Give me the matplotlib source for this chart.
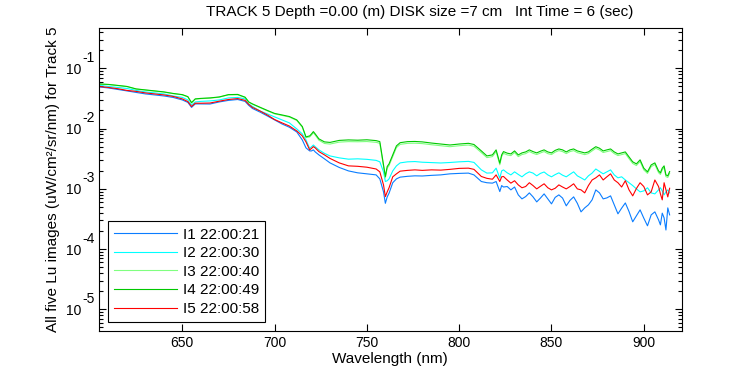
import matplotlib
matplotlib.use("Agg")
import matplotlib.pyplot as plt
from matplotlib.ticker import LogLocator, FixedLocator, NullFormatter, FuncFormatter

plt.rcParams['font.family'] = ['Liberation Sans', 'DejaVu Sans']

wavelength = [605, 610, 615, 620, 625, 630, 635, 640, 645, 650, 653, 655, 657, 660, 665, 670,
              675, 680, 684, 686, 688, 692, 696, 700, 704, 708, 712, 715, 717, 719, 720, 721,
              722, 724, 727, 730, 735, 740, 745, 750, 755, 757, 759, 760, 761, 762, 764, 766,
              768, 772, 776, 780, 785, 790, 795, 800, 805, 808, 812, 815, 818, 820, 822, 823,
              824, 826,
              828, 830, 832, 834, 836, 838, 840, 842, 844, 846, 848, 850, 852, 854, 856, 858,
              860, 862, 864, 866, 868, 870, 872, 874, 876, 878, 880, 882, 884, 886, 888, 890,
              892, 894, 896, 898, 900, 902, 904, 906, 908, 909, 910, 911, 912, 913, 914]

I1 = [0.0490, 0.0471, 0.0445, 0.0421, 0.0397, 0.0375, 0.0361, 0.0347, 0.0328, 0.0298, 0.0271,
      0.0224, 0.0256, 0.0256, 0.0255, 0.0276, 0.0293, 0.0303, 0.0282, 0.0242, 0.0215, 0.0188,
      0.0162, 0.0139, 0.0119, 0.0105, 0.00877, 0.00647, 0.00477, 0.00425, 0.00425, 0.00442,
      0.00409, 0.00365, 0.00314, 0.00269, 0.00226, 0.00198, 0.00184, 0.00177, 0.00170, 0.00146,
      0.000889, 0.000574, 0.000734, 0.000845, 0.00126, 0.00146, 0.00156, 0.00161, 0.00164,
      0.00163, 0.00167, 0.00170, 0.00177, 0.00180, 0.00182, 0.00170, 0.00132, 0.00126, 0.00124,
      0.00132, 0.000899, 0.00113, 0.00107, 0.00109,
      0.000959, 0.00107, 0.000792, 0.000680, 0.000742, 0.000855, 0.000734, 0.000606, 0.000701,
      0.000823, 0.000680, 0.000562, 0.000720, 0.000792, 0.000701, 0.000521, 0.000642, 0.000734,
      0.000574, 0.000414, 0.000482, 0.000541, 0.000655, 0.000959, 0.000855, 0.000680, 0.000706,
      0.000763, 0.000541, 0.000384, 0.000477, 0.000582, 0.000419, 0.000283, 0.000356, 0.000447,
      0.000326, 0.000243, 0.000369, 0.000414, 0.000305, 0.000252, 0.000394, 0.000329, 0.000207,
      0.000482, 0.000369]

I2 = [0.0519, 0.0499, 0.0480, 0.0462, 0.0429, 0.0405, 0.0390, 0.0375, 0.0347, 0.0328, 0.0298,
      0.0246, 0.0276, 0.0282, 0.0287, 0.0298, 0.0322, 0.0328, 0.0310, 0.0256, 0.0233, 0.0196,
      0.0175, 0.0156, 0.0139, 0.0124, 0.00985, 0.00814, 0.00647, 0.00468, 0.00499, 0.00533,
      0.00499, 0.00442, 0.00387, 0.00351, 0.00326, 0.00310, 0.00314, 0.00308, 0.00296, 0.00280,
      0.00191, 0.00132, 0.00136, 0.00146, 0.00198, 0.00240, 0.00269, 0.00280, 0.00283, 0.00276,
      0.00272, 0.00268, 0.00273, 0.00280, 0.00285, 0.00274, 0.00206, 0.00182, 0.00184, 0.00220,
      0.00150, 0.00198, 0.00206, 0.00184,
      0.00170, 0.00191, 0.00173, 0.00158, 0.00177, 0.00191, 0.00182, 0.00164, 0.00180, 0.00190,
      0.00170, 0.00158, 0.00172, 0.00184, 0.00168, 0.00158, 0.00174, 0.00191, 0.00164, 0.00152,
      0.00140, 0.00164, 0.00182, 0.00213, 0.00194, 0.00177, 0.00191, 0.00206, 0.00170, 0.00152,
      0.00158, 0.00140, 0.00126, 0.00113, 0.000996, 0.000889, 0.000923, 0.00104, 0.000855,
      0.000823, 0.000959, 0.00104, 0.000923, 0.000792, 0.000889, 0.000959, 0.000855]

I3 = [0.0545, 0.0536, 0.0516, 0.0496, 0.0451, 0.0434, 0.0418, 0.0402, 0.0379, 0.0362, 0.0335,
      0.0266, 0.0307, 0.0313, 0.0319, 0.0331, 0.0362, 0.0362, 0.0328, 0.0273, 0.0253, 0.0223,
      0.0197, 0.0175, 0.0165, 0.0155, 0.0136, 0.0105, 0.00705, 0.00725, 0.00780, 0.00850,
      0.00780, 0.00640, 0.00565, 0.00552, 0.00595, 0.00606, 0.00603, 0.00608, 0.00590, 0.00568,
      0.00236, 0.00152, 0.00220, 0.00243, 0.00342, 0.00483, 0.00545, 0.00567, 0.00571, 0.00562,
      0.00538, 0.00518, 0.00499, 0.00518, 0.00532, 0.00508, 0.00398, 0.00329, 0.00342, 0.00414,
      0.00250, 0.00342, 0.00388, 0.00365,
      0.00355, 0.00400, 0.00342, 0.00370, 0.00383, 0.00415, 0.00388, 0.00370, 0.00393, 0.00415,
      0.00383, 0.00370, 0.00406, 0.00430, 0.00414, 0.00384, 0.00414, 0.00430, 0.00398, 0.00384,
      0.00369, 0.00384, 0.00425, 0.00469, 0.00441, 0.00400, 0.00414, 0.00430, 0.00383, 0.00356,
      0.00369, 0.00384, 0.00316, 0.00263, 0.00243, 0.00284, 0.00206, 0.00180, 0.00233, 0.00253,
      0.00185, 0.00173, 0.00206, 0.00226, 0.00159, 0.00154, 0.00181]

I4 = [0.0549, 0.0539, 0.0519, 0.0499, 0.0454, 0.0437, 0.0421, 0.0405, 0.0382, 0.0365, 0.0338,
      0.0269, 0.0310, 0.0316, 0.0322, 0.0334, 0.0365, 0.0368, 0.0331, 0.0276, 0.0256, 0.0226,
      0.0200, 0.0178, 0.0168, 0.0158, 0.0139, 0.0108, 0.00726, 0.00754, 0.00814, 0.00889,
      0.00814, 0.00673, 0.00600, 0.00588, 0.00635, 0.00647, 0.00640, 0.00650, 0.00630, 0.00606,
      0.00249, 0.00160, 0.00234, 0.00259, 0.00365, 0.00515, 0.00582, 0.00606, 0.00610, 0.00600,
      0.00574, 0.00553, 0.00533, 0.00553, 0.00568, 0.00543, 0.00425, 0.00351, 0.00365, 0.00442,
      0.00266, 0.00365, 0.00414, 0.00390,
      0.00379, 0.00425, 0.00365, 0.00394, 0.00409, 0.00442, 0.00414, 0.00394, 0.00420, 0.00442,
      0.00409, 0.00394, 0.00434, 0.00458, 0.00442, 0.00409, 0.00442, 0.00458, 0.00425, 0.00409,
      0.00394, 0.00409, 0.00454, 0.00499, 0.00471, 0.00425, 0.00442, 0.00458, 0.00409, 0.00379,
      0.00394, 0.00409, 0.00338, 0.00280, 0.00259, 0.00302, 0.00220, 0.00191, 0.00249, 0.00269,
      0.00198, 0.00184, 0.00220, 0.00240, 0.00170, 0.00164, 0.00193]

I5 = [0.0499, 0.0480, 0.0458, 0.0429, 0.0413, 0.0390, 0.0375, 0.0361, 0.0341, 0.0310, 0.0280,
      0.0232, 0.0263, 0.0263, 0.0265, 0.0284, 0.0303, 0.0314, 0.0293, 0.0251, 0.0224, 0.0196,
      0.0168, 0.0141, 0.0124, 0.0110, 0.00912, 0.00754, 0.00600, 0.00442, 0.00468, 0.00501,
      0.00477, 0.00414, 0.00365, 0.00319, 0.00269, 0.00240, 0.00236, 0.00228, 0.00213, 0.00191,
      0.00116, 0.000742, 0.000889, 0.00104, 0.00158, 0.00177, 0.00196, 0.00202, 0.00206, 0.00202,
      0.00206, 0.00204, 0.00210, 0.00218, 0.00220, 0.00210, 0.00160, 0.00149, 0.00144, 0.00170,
      0.00132, 0.00158, 0.00160, 0.00140,
      0.00124, 0.00136, 0.00116, 0.00104, 0.00109, 0.00126, 0.00113, 0.000996, 0.00110, 0.00121,
      0.00104, 0.000959, 0.00102, 0.00116, 0.00107, 0.000996, 0.00109, 0.00121, 0.000996,
      0.000959, 0.000855, 0.00113, 0.00140, 0.00152, 0.00170, 0.00140, 0.00158, 0.00177, 0.00140,
      0.00126, 0.00107, 0.00136, 0.000959, 0.000763, 0.00101, 0.00126, 0.00109, 0.000792,
      0.000889, 0.00140, 0.00109, 0.000823, 0.000655, 0.00126, 0.000959, 0.000734, 0.00102]

labels = ['I1 22:00:21', 'I2 22:00:30', 'I3 22:00:40', 'I4 22:00:49', 'I5 22:00:58']
colors = ['#0a7dff', '#00ffff', '#80ff80', '#00c800', '#ff0000']
series = [I1, I2, I3, I4, I5]

title = 'TRACK 5 Depth =0.00 (m) DISK size =7 cm   Int Time = 6 (sec)'
xlabel = 'Wavelength (nm)'
ylabel = 'All five Lu images (uW/cm\u00b2/sr/nm) for Track 5'
xticks = [650, 700, 750, 800, 850, 900]
yexponents = [-5, -4, -3, -2, -1]

fig = plt.figure(figsize=(7.5, 3.75), dpi=100)
ax = fig.add_axes([98.5 / 750, (375 - 330.7) / 375, (682 - 98.5) / 750, (330.7 - 28.3) / 375])

for y, c, lab in zip(series, colors, labels):
    ax.plot(wavelength, y, color=c, lw=0.8, label=lab)

ax.set_yscale('log')
ax.set_xlim(604.6, 920.7)
ax.set_ylim(10 ** -5.355, 10 ** -0.337)
ax.xaxis.set_major_locator(FixedLocator(xticks))
ax.yaxis.set_major_locator(FixedLocator([10.0 ** e for e in yexponents]))
ax.yaxis.set_major_formatter(FuncFormatter(lambda v, p: '10'))
ax.yaxis.set_minor_locator(LogLocator(base=10, subs=range(2, 10), numticks=20))
ax.yaxis.set_minor_formatter(NullFormatter())
ax.tick_params(which='both', direction='in', top=True, right=True, labelsize=10, width=0.8)
ax.tick_params(which='major', length=5)
ax.tick_params(which='minor', length=3)
ax.tick_params(axis='y', which='major', pad=12)
for s in ax.spines.values():
    s.set_linewidth(0.8)

# MATLAB-style exponents next to the "10" tick labels
for e in yexponents:
    ax.annotate(str(e), xy=(0, 10.0 ** e), xycoords=('axes fraction', 'data'),
                xytext=(-16.5 * 0.72, 10.5 * 0.72), textcoords='offset points',
                ha='left', va='center', fontsize=10)

ax.set_xlabel(xlabel, fontsize=11, labelpad=2)
ax.set_ylabel(ylabel, fontsize=11)
ax.yaxis.set_label_coords((60 - 98.5) / 583.5, 0.5)
fig.text(420 / 750, 1 - 12 / 375, title, ha='center', va='center', fontsize=11)

leg = ax.legend(loc='lower left', bbox_to_anchor=((108 - 98.5) / 583.5, (330.7 - 322) / 302.4),
                borderaxespad=0, fancybox=False, framealpha=1, edgecolor='black',
                fontsize=11, handlelength=4.1, handletextpad=0.4, labelspacing=0.3,
                borderpad=0.4)
leg.get_frame().set_linewidth(0.8)

fig.savefig('out.png', dpi=100)
